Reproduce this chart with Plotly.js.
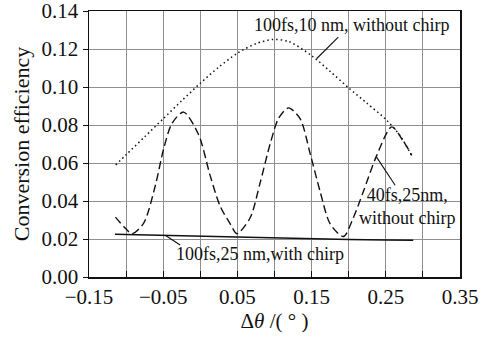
<!DOCTYPE html>
<html>
<head>
<meta charset="utf-8">
<script src="https://cdn.plot.ly/plotly-3.0.1.min.js"></script>
<style>
html,body{margin:0;padding:0;background:#fff;}
#chart{width:492px;height:337px;}
</style>
</head>
<body>
<div id="chart"></div>
<script>
// ---- data ----
const dotX = [-0.114,-0.100,-0.075,-0.050,-0.025,0.000,0.025,0.050,0.075,0.098,0.120,0.150,0.175,0.200,0.225,0.250,0.270,0.286];
const dotY = [0.059,0.0643,0.0738,0.0833,0.0928,0.1020,0.1105,0.1178,0.1228,0.1250,0.1238,0.1165,0.1082,0.0995,0.0913,0.0830,0.0740,0.0630];

const dashX = [-0.1144,-0.103,-0.092,-0.0765,-0.0607,-0.0495,-0.0382,-0.0226,-0.0024,0.0134,0.0268,0.0403,0.0493,0.0672,0.0807,0.0941,0.1053,0.1188,0.1345,0.148,0.1615,0.175,0.1929,0.2063,0.2198,0.2378,0.258,0.2736,0.285];
const dashY = [0.0315,0.0265,0.0228,0.0282,0.0480,0.0673,0.0808,0.0868,0.0750,0.0532,0.0372,0.0280,0.0228,0.0312,0.0497,0.0700,0.0833,0.0890,0.0833,0.0650,0.0450,0.0280,0.0213,0.0312,0.0450,0.0640,0.0790,0.0715,0.0640];

const solidX = [-0.115,-0.08,-0.05,0.0,0.05,0.10,0.15,0.20,0.25,0.287];
const solidY = [0.0225,0.0222,0.0218,0.0213,0.0208,0.0205,0.0202,0.0198,0.0195,0.0194];

const xTickVals = [-0.15,-0.10,-0.05,0.00,0.05,0.10,0.15,0.20,0.25,0.30,0.35];
const xTickText = ['\u22120.15','','\u22120.05','','0.05','','0.15','','0.25','','0.35'];
const yTickVals = [0,0.02,0.04,0.06,0.08,0.10,0.12,0.14];
const yTickText = ['0.00','0.02','0.04','0.06','0.08','0.10','0.12','0.14'];

const labelTexts = ['100fs,10 nm, without chirp','40fs,25nm,<br>without chirp','100fs,25 nm,with chirp'];
const labelPos = [[0.2046,0.1324],[0.2793,0.0370],[0.0803,0.0119]];
const leaderLines = [[0.157,0.1150,0.186,0.1262],[0.2369,0.0635,0.2626,0.0483],[-0.0473,0.0220,-0.0271,0.0168]];

const FONT = 'Liberation Serif, Times New Roman, serif';

const traces = [
  {x: dotX, y: dotY, mode:'lines', line:{color:'#111', width:1.5, dash:'1.5px,3px', shape:'spline', smoothing:0.8}, hoverinfo:'skip'},
  {x: dashX, y: dashY, mode:'lines', line:{color:'#111', width:1.4, dash:'8px,4px', shape:'spline', smoothing:0.8}, hoverinfo:'skip'},
  {x: solidX, y: solidY, mode:'lines', line:{color:'#111', width:1.5}, hoverinfo:'skip'}
];

const annotations = labelTexts.map((t,i)=>({
  x: labelPos[i][0], y: labelPos[i][1], xref:'x', yref:'y', text:t, showarrow:false,
  font:{family:FONT, size:18, color:'#111'}, align:'center', xanchor:'center', yanchor:'middle'
}));

const shapes = leaderLines.map(l=>({type:'line', xref:'x', yref:'y', x0:l[0], y0:l[1], x1:l[2], y1:l[3], line:{color:'#111', width:1.1}}));

const layout = {
  width:492, height:337,
  margin:{l:89, r:32, t:11, b:60},
  paper_bgcolor:'#fff', plot_bgcolor:'#fff',
  showlegend:false,
  font:{family:FONT, color:'#111'},
  xaxis:{
    range:[-0.15,0.35], tickvals:xTickVals, ticktext:xTickText,
    showgrid:true, gridcolor:'#8f8f8f', gridwidth:1,
    showline:true, linecolor:'#111', linewidth:1.5, mirror:true,
    ticks:'inside', ticklen:6, tickcolor:'#111', tickwidth:1,
    tickfont:{family:FONT, size:21, color:'#111'},
    ticklabeloverflow:'allow',
    zeroline:false,
    title:{text:'\u0394<i>\u03b8</i> /( \u00b0 )', font:{family:FONT, size:21, color:'#111'}, standoff:3}
  },
  yaxis:{
    range:[0,0.14], tickvals:yTickVals, ticktext:yTickText,
    showgrid:true, gridcolor:'#8f8f8f', gridwidth:1,
    showline:true, linecolor:'#111', linewidth:1.5, mirror:true,
    ticks:'outside', ticklen:5, tickcolor:'#111', tickwidth:1,
    tickfont:{family:FONT, size:21, color:'#111'},
    ticklabeloverflow:'allow',
    zeroline:false,
    title:{text:'Conversion efficiency', font:{family:FONT, size:22, color:'#111'}, standoff:6}
  },
  annotations: annotations,
  shapes: shapes
};

Plotly.newPlot('chart', traces, layout, {displayModeBar:false, staticPlot:true});
</script>
</body>
</html>
